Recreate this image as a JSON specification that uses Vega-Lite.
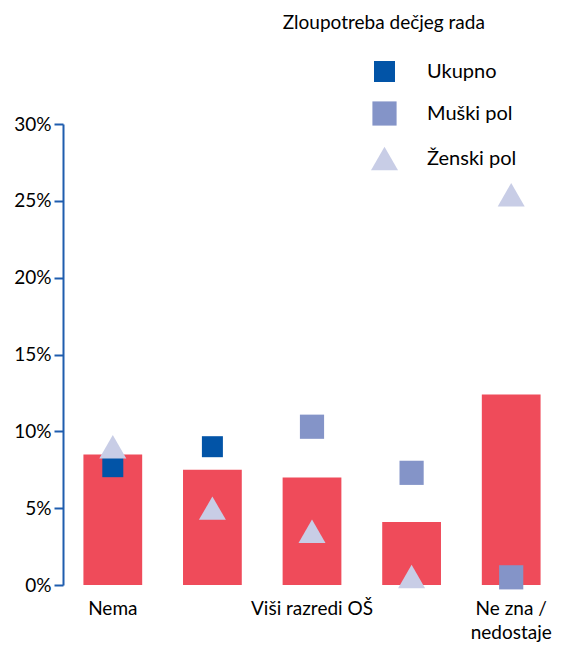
{
  "$schema": "https://vega.github.io/schema/vega-lite/v6.json",
  "width": 498,
  "height": 461,
  "autosize": "none",
  "padding": {"left": 63, "top": 124, "right": 1, "bottom": 60},
  "background": "white",
  "title": {
    "text": "Zloupotreba dečjeg rada",
    "anchor": "start",
    "dx": 269,
    "offset": 28,
    "font": "Lato",
    "fontSize": 19,
    "fontWeight": "normal",
    "color": "#000000"
  },
  "config": {
    "view": {"stroke": null},
    "font": "Lato",
    "axis": {"labelFont": "Lato", "labelColor": "#000000", "labelFontSize": 19, "grid": false, "title": null},
    "legend": {"labelFont": "Lato"}
  },
  "datasets": {
    "stupci": [
      {"kategorija": "Nema", "vrednost": 0.085},
      {"kategorija": "Niži razredi OŠ", "vrednost": 0.075},
      {"kategorija": "Viši razredi OŠ", "vrednost": 0.070},
      {"kategorija": "Srednja škola", "vrednost": 0.041},
      {"kategorija": "Ne zna / nedostaje", "vrednost": 0.124}
    ],
    "tacke": [
      {"kategorija": "Nema", "serija": "Ukupno", "vrednost": 0.077},
      {"kategorija": "Nema", "serija": "Ženski pol", "vrednost": 0.090},
      {"kategorija": "Niži razredi OŠ", "serija": "Ukupno", "vrednost": 0.090},
      {"kategorija": "Niži razredi OŠ", "serija": "Ženski pol", "vrednost": 0.050},
      {"kategorija": "Viši razredi OŠ", "serija": "Muški pol", "vrednost": 0.103},
      {"kategorija": "Viši razredi OŠ", "serija": "Ženski pol", "vrednost": 0.035},
      {"kategorija": "Srednja škola", "serija": "Muški pol", "vrednost": 0.073},
      {"kategorija": "Srednja škola", "serija": "Ženski pol", "vrednost": 0.0055},
      {"kategorija": "Ne zna / nedostaje", "serija": "Muški pol", "vrednost": 0.005},
      {"kategorija": "Ne zna / nedostaje", "serija": "Ženski pol", "vrednost": 0.254}
    ]
  },
  "encoding": {
    "x": {
      "field": "kategorija",
      "type": "nominal",
      "sort": ["Nema", "Niži razredi OŠ", "Viši razredi OŠ", "Srednja škola", "Ne zna / nedostaje"],
      "scale": {"paddingInner": 0.41, "paddingOuter": 0.205},
      "axis": {
        "domain": false,
        "ticks": false,
        "labelAngle": 0,
        "labelPadding": 14,
        "labelLineHeight": 24,
        "labelExpr": "datum.value == 'Ne zna / nedostaje' ? ['Ne zna /', 'nedostaje'] : (datum.value == 'Nema' || datum.value == 'Viši razredi OŠ' ? datum.value : '')"
      }
    },
    "y": {
      "field": "vrednost",
      "type": "quantitative",
      "scale": {"domain": [0, 0.3], "nice": false, "zero": true},
      "axis": {
        "values": [0, 0.05, 0.1, 0.15, 0.2, 0.25, 0.3],
        "format": ".0%",
        "domainColor": "#1F5DAE",
        "domainWidth": 2,
        "tickColor": "#1F5DAE",
        "tickWidth": 2,
        "tickSize": 9,
        "labelPadding": 3
      }
    }
  },
  "layer": [
    {
      "data": {"name": "stupci"},
      "mark": {"type": "bar", "color": "#EF4B5A"}
    },
    {
      "data": {"name": "tacke"},
      "mark": {"type": "point", "filled": true, "opacity": 1, "strokeWidth": 0},
      "encoding": {
        "color": {
          "field": "serija",
          "type": "nominal",
          "scale": {"domain": ["Ukupno", "Muški pol", "Ženski pol"], "range": ["#0254A7", "#8494C8", "#C8CDE6"]},
          "legend": {
            "title": null,
            "orient": "none",
            "legendX": 308,
            "legendY": -63,
            "labelFontSize": 20,
            "labelColor": "#000000",
            "labelOffset": 29,
            "rowPadding": 19,
            "symbolOpacity": 1,
            "symbolStrokeWidth": 0
          }
        },
        "shape": {
          "field": "serija",
          "type": "nominal",
          "scale": {"domain": ["Ukupno", "Muški pol", "Ženski pol"], "range": ["square", "square", "triangle-up"]}
        },
        "size": {
          "field": "serija",
          "type": "nominal",
          "scale": {"domain": ["Ukupno", "Muški pol", "Ženski pol"], "range": [441, 729, 625]}
        }
      }
    }
  ]
}
